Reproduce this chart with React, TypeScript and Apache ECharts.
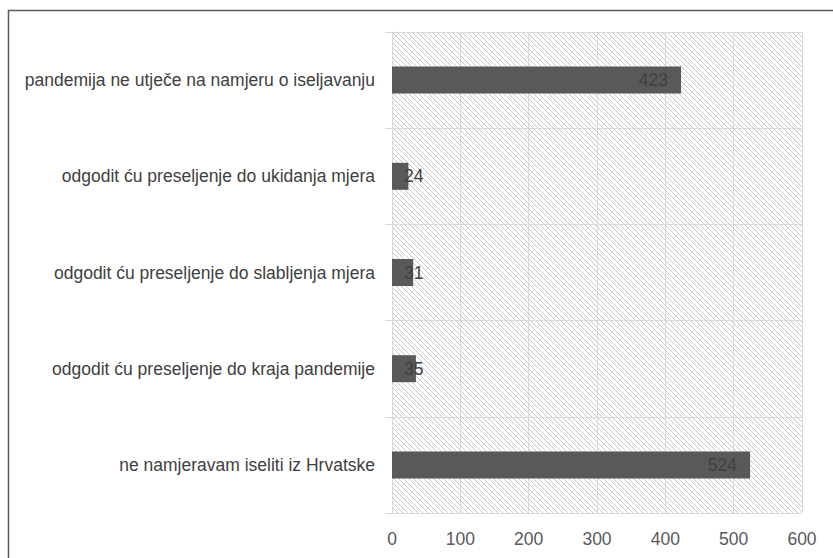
import React, { useEffect, useRef } from "react";
import * as echarts from "echarts";

const categories = [
  "pandemija ne utječe na namjeru o iseljavanju",
  "odgodit ću preseljenje do ukidanja mjera",
  "odgodit ću preseljenje do slabljenja mjera",
  "odgodit ću preseljenje do kraja pandemije",
  "ne namjeravam iseliti iz Hrvatske",
];
const values = [423, 24, 31, 35, 524];
const xTicks = { min: 0, max: 600, interval: 100 };

function makeHatch(): HTMLCanvasElement {
  const n = 5;
  const c = document.createElement("canvas");
  c.width = n;
  c.height = n;
  const ctx = c.getContext("2d")!;
  ctx.fillStyle = "#ffffff";
  ctx.fillRect(0, 0, n, n);
  ctx.fillStyle = "#c8c8c8";
  for (let i = 0; i < n; i++) ctx.fillRect(i, i, 1, 1);
  return c;
}

export default function App() {
  const ref = useRef<HTMLDivElement>(null);
  useEffect(() => {
    if (!ref.current) return;
    const chart = echarts.init(ref.current, undefined, { renderer: "svg" });
    const font = "'Liberation Sans', Arial, sans-serif";
    const data = values.map((v) => ({
      value: v,
      label:
        v < 100
          ? { position: "insideLeft", distance: 12 }
          : { position: "insideRight", distance: 13 },
    }));
    chart.setOption({
      animation: false,
      backgroundColor: "#ffffff",
      grid: {
        left: 392,
        right: 31,
        top: 32,
        bottom: 45,
        show: true,
        borderWidth: 0,
        backgroundColor: { image: makeHatch(), repeat: "repeat" },
      },
      graphic: [
        {
          type: "rect",
          shape: { x: 8.5, y: 10.5, width: 1000, height: 1000 },
          style: { fill: "none", stroke: "#595959", lineWidth: 1.5 },
          silent: true,
        },
      ],
      xAxis: {
        type: "value",
        min: xTicks.min,
        max: xTicks.max,
        interval: xTicks.interval,
        axisLine: { show: false },
        axisTick: { show: false },
        splitLine: { show: true, lineStyle: { color: "#d9d9d9", width: 1 } },
        axisLabel: { color: "#595959", fontSize: 17.5, fontFamily: font, margin: 17 },
      },
      yAxis: {
        type: "category",
        inverse: true,
        data: categories,
        axisLine: { show: true, lineStyle: { color: "#d9d9d9" } },
        axisTick: { show: true, length: 7, lineStyle: { color: "#d9d9d9" } },
        splitLine: { show: true, lineStyle: { color: "#d9d9d9", width: 1 } },
        axisLabel: { color: "#404040", fontSize: 17.5, fontFamily: font, margin: 17 },
      },
      series: [
        {
          type: "bar",
          data,
          barWidth: 27,
          itemStyle: { color: "#595959" },
          label: {
            show: true,
            color: "#404040",
            fontSize: 17.5,
            fontFamily: font,
          },
        },
      ],
    });
    return () => chart.dispose();
  }, []);
  return (
    <div
      ref={ref}
      style={{ position: "fixed", left: 0, top: 0, width: 833, height: 558 }}
    />
  );
}
